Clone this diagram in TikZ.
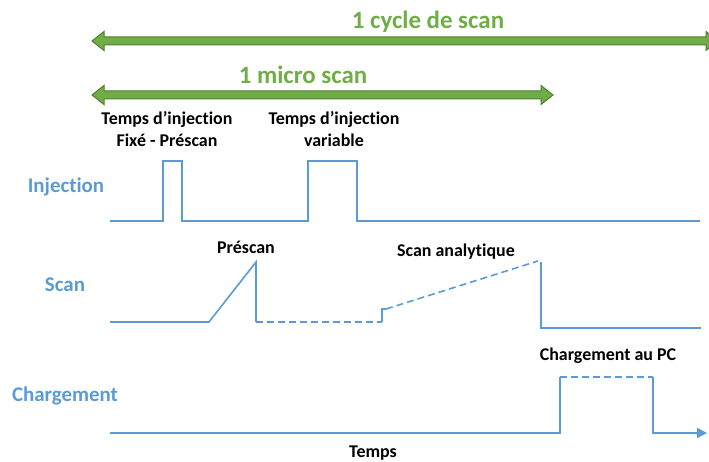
\documentclass[tikz,border=0pt]{standalone}
\usepackage{fontspec}
\setmainfont{Carlito}[Ligatures=NoCommon]
\usetikzlibrary{arrows.meta}
\definecolor{vert}{HTML}{70AD47}
\definecolor{vertf}{HTML}{507E32}
\definecolor{bleu}{HTML}{5B9BD5}

\tikzset{
  titre/.style={font=\fontsize{25}{30}\selectfont\bfseries,text=vert},
  legende/.style={font=\fontsize{18}{22}\selectfont\bfseries,align=center},
  voie/.style={font=\fontsize{21}{25}\selectfont\bfseries,text=bleu},
  signal/.style={bleu,line width=1.6bp,line join=miter},
  pointille/.style={signal,dash pattern=on 7bp off 4bp},
  fleche/.style={fill=vert,draw=vertf,line width=1bp,line join=miter}
}
% double green arrow: left tip, right tip, height
\newcommand{\flechedouble}[3]{%
  \filldraw[fleche] (#1,#3) -- (#1+12,#3-9.5) -- (#1+12,#3-4) -- (#2-12,#3-4)
    -- (#2-12,#3-9.5) -- (#2,#3) -- (#2-12,#3+9.5) -- (#2-12,#3+4)
    -- (#1+12,#3+4) -- (#1+12,#3+9.5) -- cycle;}

\begin{document}
\begin{tikzpicture}[x=1bp,y=-1bp]
  \useasboundingbox (0,0) rectangle (709,462);
  % durations
  \flechedouble{92}{718}{41}
  \flechedouble{92}{553}{95}
  \node[titre] (cycle) at (428,22) {1 cycle de scan};
  \node[titre] (micro) at (303,75) {1 micro scan};
  % channel names
  \node[voie] (injection) at (66,187) {Injection};
  \node[voie] (scan) at (65,285) {Scan};
  \node[voie] (chargement) at (65,396) {Chargement};
  % injection
  \node[legende] (injfixe) at (167,129) {Temps d’injection\\Fixé - Préscan};
  \node[legende] (injvar) at (334,129) {Temps d’injection\\variable};
  \draw[signal] (110,221) -- (163,221) -- (163,161) -- (182,161) -- (182,221)
    -- (308,221) -- (308,161) -- (357,161) -- (357,221) -- (700,221);
  % scan
  \node[legende] (prescan) at (246,247) {Préscan};
  \node[legende] (analytique) at (456,252) {Scan analytique};
  \draw[signal] (110,322) -- (209,322) -- (256,262) -- (256,322);
  \draw[pointille] (256,322) -- (382,322);
  \draw[signal] (382,322) -- (382,309) -- (386,309);
  \draw[pointille] (386,309) -- (538,261);
  \draw[signal] (541,262) -- (541,328) -- (701,328);
  % chargement
  \node[legende] (chargpc) at (608,356) {Chargement au PC};
  \draw[signal] (110,433) -- (560,433) -- (560,377);
  \draw[pointille] (560,377) -- (653,377);
  \draw[signal,-{Triangle[length=10bp,width=10bp]}] (653,377) -- (653,433) -- (707,433);
  \node[legende] (temps) at (373,453) {Temps};
\end{tikzpicture}
\end{document}
